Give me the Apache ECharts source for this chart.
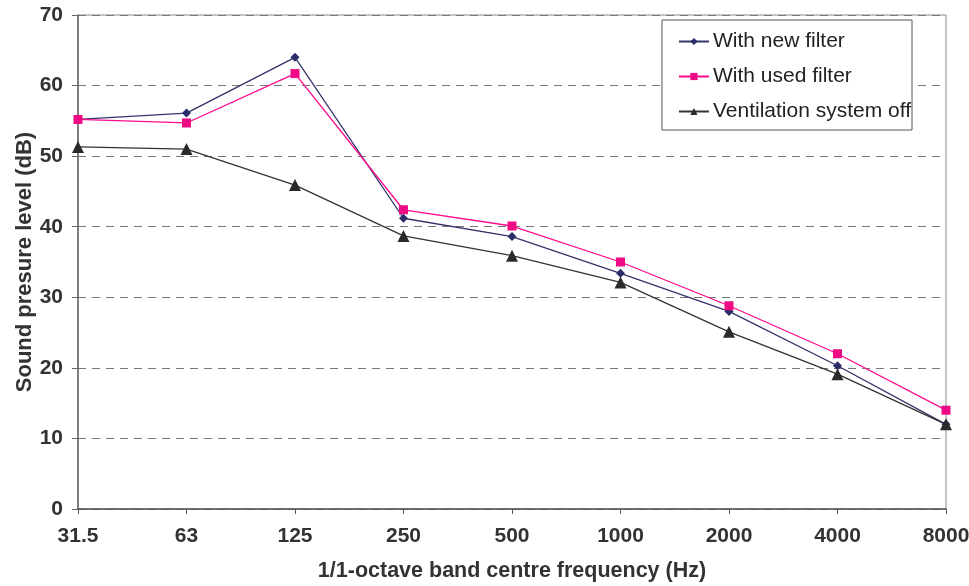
<!DOCTYPE html>
<html>
<head>
<meta charset="utf-8">
<script src="https://cdn.jsdelivr.net/npm/echarts@6/dist/echarts.min.js"></script>
<style>html,body{margin:0;padding:0;background:#fff}#c{width:969px;height:586px}</style>
</head>
<body>
<div id="c"></div>
<script>
const categories = ['31.5','63','125','250','500','1000','2000','4000','8000'];
const newFilter = [55.2, 56.1, 64.0, 41.2, 38.6, 33.4, 28.0, 20.3, 12.0];
const usedFilter = [55.2, 54.7, 61.7, 42.4, 40.1, 35.0, 28.8, 22.0, 14.0];
const ventOff = [51.3, 51.0, 45.9, 38.7, 35.9, 32.1, 25.1, 19.1, 12.0];
const seriesNames = ['With new filter','With used filter','Ventilation system off'];

const chart = echarts.init(document.getElementById('c'));
const font = 'Liberation Sans, Arial, sans-serif';
chart.setOption({
  animation: false,
  backgroundColor: '#fff',
  grid: {left: 78, right: 23, top: 15, bottom: 77, show: true, borderColor: '#8a8a8a', borderWidth: 1,
         containLabel: false, outerBoundsMode: 'none'},
  legend: {
    orient: 'vertical', right: 57, top: 20,
    backgroundColor: '#fff', borderColor: '#555', borderWidth: 1,
    padding: [11, 1, 8, 16], itemGap: 14, itemWidth: 30, itemHeight: 9,
    textStyle: {fontFamily: font, fontSize: 21, color: '#222', padding: [0, 0, 0, -1]},
    data: seriesNames
  },
  xAxis: {
    type: 'category', data: categories, boundaryGap: false,
    axisLine: {lineStyle: {color: '#555', width: 1.5}},
    axisTick: {show: true, length: 5, lineStyle: {color: '#555'}},
    axisLabel: {fontFamily: font, fontWeight: 'bold', fontSize: 21, color: '#333', margin: 17},
    name: '1/1-octave band centre frequency (Hz)', nameLocation: 'middle', nameGap: 51,
    nameMoveOverlap: false,
    nameTextStyle: {fontFamily: font, fontWeight: 'bold', fontSize: 21.5, color: '#333'}
  },
  yAxis: {
    type: 'value', min: 0, max: 70, interval: 10,
    axisLine: {show: true, lineStyle: {color: '#666', width: 1.5}},
    axisTick: {show: true, length: 6, lineStyle: {color: '#666'}},
    axisLabel: {fontFamily: font, fontWeight: 'bold', fontSize: 21, color: '#333', margin: 15},
    splitLine: {show: true, lineStyle: {color: '#777', type: [8, 6], width: 1}},
    name: 'Sound presure level (dB)', nameLocation: 'middle', nameGap: 42, nameRotate: 90,
    nameMoveOverlap: false,
    nameTextStyle: {fontFamily: font, fontWeight: 'bold', fontSize: 22, color: '#333'}
  },
  series: [
    {name: seriesNames[0], type: 'line', data: newFilter, symbol: 'diamond', symbolSize: 9,
     lineStyle: {color: '#33336b', width: 1.3}, itemStyle: {color: '#2b2d6b'}},
    {name: seriesNames[1], type: 'line', data: usedFilter, symbol: 'rect', symbolSize: 9,
     lineStyle: {color: '#ff0a8c', width: 1.3}, itemStyle: {color: '#ee0a85'}},
    {name: seriesNames[2], type: 'line', data: ventOff, symbol: 'triangle', symbolSize: 12,
     lineStyle: {color: '#333', width: 1.3}, itemStyle: {color: '#2a2a2a'}}
  ]
});
</script>
</body>
</html>
